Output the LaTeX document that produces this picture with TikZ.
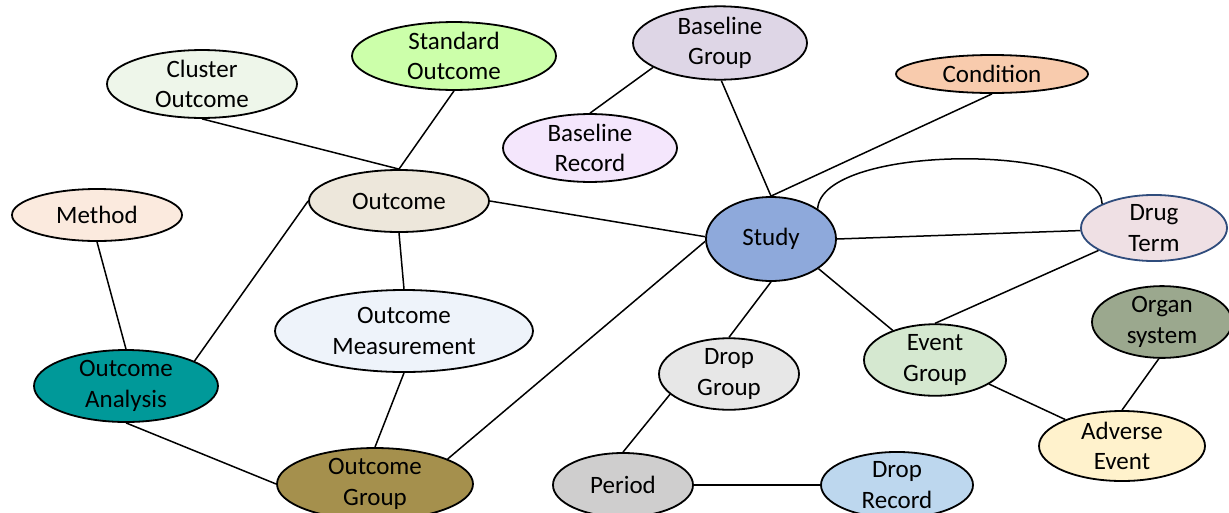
\documentclass[tikz,border=0pt]{standalone}
\usepackage{fontspec}
\setmainfont{Carlito}
\usetikzlibrary{shapes.geometric}
\definecolor{cClu}{HTML}{EEF6EA}
\definecolor{cStd}{HTML}{CCFFAA}
\definecolor{cBG}{HTML}{DED6E6}
\definecolor{cBR}{HTML}{F4E6FC}
\definecolor{cCond}{HTML}{F8CBAD}
\definecolor{cOut}{HTML}{EDE7DB}
\definecolor{cMeth}{HTML}{FBEADE}
\definecolor{cStudy}{HTML}{8EA9DB}
\definecolor{cDrug}{HTML}{EFE0E4}
\definecolor{cDrugB}{HTML}{2F4C7C}
\definecolor{cOM}{HTML}{EEF3FA}
\definecolor{cOA}{HTML}{009999}
\definecolor{cDG}{HTML}{E7E7E7}
\definecolor{cEG}{HTML}{D5E8D0}
\definecolor{cOrg}{HTML}{9BA88E}
\definecolor{cAE}{HTML}{FFF2CC}
\definecolor{cOG}{HTML}{A5904D}
\definecolor{cPer}{HTML}{CFCECE}
\definecolor{cDR}{HTML}{BDD7EE}
\begin{document}
\begin{tikzpicture}[x=1pt,y=-1pt,
  ent/.style={ellipse,draw=black,line width=1.8pt,inner sep=0pt,align=center,
    font=\fontsize{25}{30.5}\selectfont},
  link/.style={draw=black,line width=1.5pt}]
\useasboundingbox (0,0) rectangle (1229,512);
\clip (0,0) rectangle (1229,512);
\node[ent,fill=cClu,minimum width=190pt,minimum height=64pt] (clu) at (202,84) {Cluster\\Outcome};
\node[ent,fill=cStd,minimum width=204pt,minimum height=64pt] (std) at (454,56) {Standard\\Outcome};
\node[ent,fill=cBG,minimum width=174pt,minimum height=60pt] (bg) at (720,43) {Baseline\\Group};
\node[ent,fill=cBR,minimum width=174pt,minimum height=62pt] (br) at (590,148) {Baseline\\Record};
\node[ent,fill=cCond,minimum width=192pt,minimum height=38pt] (cond) at (992,74) {Condition};
\node[ent,fill=cOut,minimum width=180pt,minimum height=62pt] (out) at (399,201) {Outcome};
\node[ent,fill=cMeth,minimum width=170pt,minimum height=52pt] (meth) at (97,215) {Method};
\node[ent,fill=cStudy,minimum width=130pt,minimum height=84pt] (study) at (771,239) {Study};
\node[ent,fill=cDrug,draw=cDrugB,minimum width=146pt,minimum height=62pt] (drug) at (1154,228) {Drug\\Term};
\node[ent,fill=cOM,minimum width=258pt,minimum height=82pt] (om) at (404,331) {Outcome\\Measurement};
\node[ent,fill=cOA,minimum width=184pt,minimum height=72pt] (oa) at (126,386) {Outcome\\Analysis};
\node[ent,fill=cDG,minimum width=140pt,minimum height=58pt] (dg) at (729,374) {Drop\\Group};
\node[ent,fill=cEG,minimum width=142pt,minimum height=68pt] (eg) at (935,360) {Event\\Group};
\node[ent,fill=cOrg,minimum width=140pt,minimum height=64pt] (org) at (1162,322) {Organ\\system};
\node[ent,fill=cAE,minimum width=166pt,minimum height=70pt] (ae) at (1122,446) {Adverse\\Event};
\node[ent,fill=cOG,minimum width=196pt,minimum height=72pt] (og) at (375,484) {Outcome\\Group};
\node[ent,fill=cPer,minimum width=140pt,minimum height=64pt] (per) at (623,485) {Period};
\node[ent,fill=cDR,minimum width=152pt,minimum height=64pt] (dr) at (897,485) {Drop\\Record};
\path[link] (clu.south) -- (out.north);
\path[link] (std.south) -- (out.north);
\path[link] (bg.200.7) -- (br.north);
\path[link] (bg.272) -- (study.north);
\path[link] (cond.south) -- (study.north);
\path[link] (out.east) -- (study.178);
\path[link] (out.south) -- (om.north);
\path[link] (out.west) -- (oa.20.7);
\path[link] (meth.south) -- (oa.north);
\path[link] (om.south) -- (og.north);
\path[link] (oa.south) -- (og.west);
\path[link] (og.19.4) -- (study.182);
\path[link] (study.east) -- (drug.182);
\path[link] (study.33.7) .. controls (822,143) and (1100,143) .. (drug.155.7);
\path[link] (drug.202.2) -- (eg.north);
\path[link] (study.south) -- (dg.north);
\path[link] (study.328.3) -- (eg.145);
\path[link] (dg.199) -- (per.north);
\path[link] (per.east) -- (dr.west);
\path[link] (eg.336) -- (ae.155.9);
\path[link] (org.265) -- (ae.north);
\end{tikzpicture}
\end{document}
